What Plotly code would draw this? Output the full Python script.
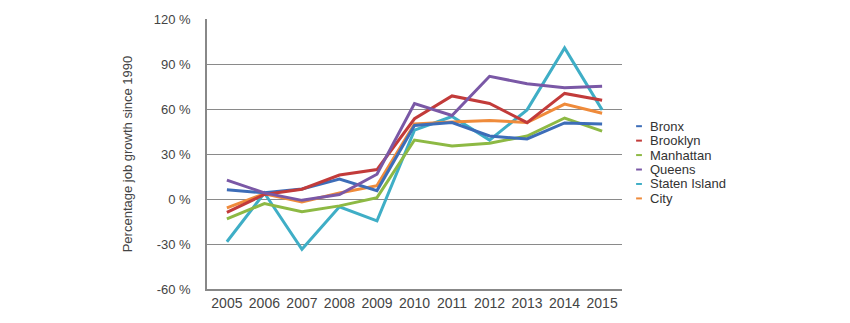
import plotly.graph_objects as go

years = ["2005", "2006", "2007", "2008", "2009", "2010", "2011", "2012", "2013", "2014", "2015"]
bronx = [6.1, 4.1, 6.7, 13.3, 5.6, 49, 51, 42, 40, 50.7, 50]
brooklyn = [-8.9, 3, 6.5, 16, 19.6, 53.5, 68.7, 63.7, 50.9, 70.4, 65.9]
manhattan = [-13.3, -3, -8.5, -4.6, 0.9, 39.3, 35.4, 37.2, 42, 54, 45.2]
queens = [12.6, 4.1, -0.9, 3, 16.5, 63.7, 55.7, 81.8, 76.8, 74.2, 75.2]
staten = [-28.5, 4, -33.5, -5.2, -14.6, 45.9, 55, 39.3, 59.4, 100.7, 59.4]
city = [-5.9, 3.5, -2, 4, 8.9, 50, 51.3, 52.4, 51, 63.3, 57.2]

names = ["Bronx", "Brooklyn", "Manhattan", "Queens", "Staten Island", "City"]
series = [bronx, brooklyn, manhattan, queens, staten, city]
colors = ["#3D6DB8", "#C23B3A", "#8DB944", "#7A58A6", "#3FAEC6", "#EF8B3B"]
yticks = [-60, -30, 0, 30, 60, 90, 120]
yticklabels = ["-60 %", "-30 %", "0 %", "30 %", "60 %", "90 %", "120 %"]

fig = go.Figure()
order = [4, 2, 5, 0, 1, 3]
for i in order:
    fig.add_trace(go.Scatter(x=years, y=series[i], mode="lines", name=names[i],
                             line=dict(color=colors[i], width=3), showlegend=False))

# compact legend built from short dash shapes and text annotations
leg_top = 0.603
leg_step = 0.0535
for k, (nm, col) in enumerate(zip(names, colors)):
    yy = leg_top - k * leg_step
    fig.add_shape(type="line", xref="paper", yref="paper",
                  x0=1.034, x1=1.048, y0=yy, y1=yy,
                  line=dict(color=col, width=2))
    fig.add_annotation(text=nm, xref="paper", yref="paper", x=1.062, y=yy,
                       xanchor="left", yanchor="middle", showarrow=False,
                       font=dict(size=13, color="#333333"))

font_fam = "Liberation Sans, Arial, sans-serif"
fig.update_layout(
    width=850, height=323,
    margin=dict(l=207, r=228, t=13, b=33),
    plot_bgcolor="white", paper_bgcolor="white",
    showlegend=False,
    font=dict(family=font_fam, color="#444444", size=13),
    xaxis=dict(type="category", range=[-0.53, 10.53], showgrid=False,
               showline=True, linecolor="#888888", linewidth=1.5,
               ticks="", tickfont=dict(size=14), fixedrange=True),
    yaxis=dict(range=[-60, 120], tickvals=yticks, ticktext=yticklabels,
               showgrid=True, gridcolor="#8a8a8a", gridwidth=1.3,
               zeroline=False, showline=True, linecolor="#888888", linewidth=1.5,
               ticks="", ticklabelstandoff=12, tickfont=dict(size=13),
               title=dict(text="Percentage job growth since 1990", font=dict(size=13), standoff=18)),
)
fig.write_html("out.html")
